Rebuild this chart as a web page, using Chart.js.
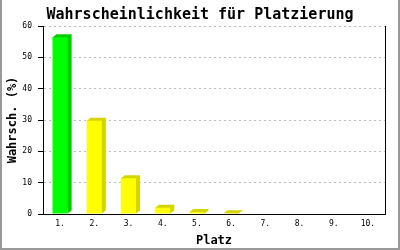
<!DOCTYPE html>
<html>
<head>
<meta charset="utf-8">
<script src="https://cdn.jsdelivr.net/npm/chart.js@4"></script>
<style>
  html, body { margin: 0; padding: 0; background: #fff; }
  #wrap { width: 400px; height: 250px; box-sizing: border-box; border-left: 2px solid #999; border-right: 2px solid #999; border-bottom: 2px solid #999; position: relative; }
  canvas { position: absolute; left: -2px; top: 0; }
</style>
</head>
<body>
<div id="wrap"><canvas id="c" width="400" height="250"></canvas></div>
<script>
"use strict";

// data
const places = ['1.', '2.', '3.', '4.', '5.', '6.', '7.', '8.', '9.', '10.'];
const chances = [56.4, 29.8, 11.4, 2.0, 0.6, 0.2, 0, 0, 0, 0];
const frontColors = ['#00ff00', '#ffff00', '#ffff00', '#ffff00', '#ffff00', '#ffff00', '#ffff00', '#ffff00', '#ffff00', '#ffff00'];
const sideColors = ['#00cc00', '#d4d400', '#d4d400', '#d4d400', '#d4d400', '#d4d400', '#d4d400', '#d4d400', '#d4d400', '#d4d400'];

const MONO = '"DejaVu Sans Mono", "Liberation Mono", monospace';

// draws the 3d depth behind every bar
const depthPlugin = {
    id: 'depth',
    beforeDatasetsDraw(chart) {
        const ctx = chart.ctx;
        const dx = 4, dy = 3;
        chart.getDatasetMeta(0).data.forEach((bar, i) => {
            if (chances[i] <= 0) return;
            const l = bar.x - bar.width / 2;
            const r = bar.x + bar.width / 2;
            const t = bar.y;
            const b = bar.base;
            ctx.save();
            ctx.fillStyle = sideColors[i];
            ctx.beginPath();
            ctx.moveTo(l, t);
            ctx.lineTo(l + dx, t - dy);
            ctx.lineTo(r + dx, t - dy);
            ctx.lineTo(r + dx, b - dy);
            ctx.lineTo(r, b);
            ctx.closePath();
            ctx.fill();
            ctx.restore();
        });
    }
};

new Chart(document.getElementById('c'), {
    type: 'bar',
    data: {
        labels: places,
        datasets: [{
            data: chances,
            backgroundColor: frontColors,
            borderWidth: 0,
            barPercentage: 0.88,
            categoryPercentage: 0.5
        }]
    },
    options: {
        responsive: false,
        devicePixelRatio: 1,
        animation: false,
        layout: { padding: { left: 0, right: 0, top: 0, bottom: 0 } },
        plugins: {
            legend: { display: false },
            tooltip: { enabled: false },
            title: {
                display: true,
                text: 'Wahrscheinlichkeit für Platzierung',
                color: '#000',
                font: { family: MONO, size: 15, weight: 'bold' },
                padding: { top: 6, bottom: 2 }
            }
        },
        scales: {
            x: {
                grid: { display: false, drawTicks: false },
                border: { display: true, color: '#000', width: 1 },
                ticks: { color: '#000', font: { family: MONO, size: 8 }, padding: 5, maxRotation: 0 },
                title: {
                    display: true, text: 'Platz', color: '#000',
                    font: { family: MONO, size: 12, weight: 'bold' },
                    padding: { top: 2, bottom: 2 }
                },
                afterFit: (s) => { s.height = 36; }
            },
            y: {
                min: 0, max: 60,
                ticks: { stepSize: 10, color: '#000', font: { family: MONO, size: 8 }, padding: 6 },
                grid: {
                    color: '#bbbbbb',
                    tickColor: '#000', tickBorderDash: [], tickLength: 5
                },
                border: { display: true, color: '#000', width: 1, dash: [2, 3] },
                title: {
                    display: true, text: 'Wahrsch. (%)', color: '#000',
                    font: { family: MONO, size: 12, weight: 'bold' },
                    padding: { top: 6, bottom: 0 }
                },
                afterFit: (s) => { s.width = 43; }
            },
            yr: {
                position: 'right',
                display: true,
                grid: { display: false, drawOnChartArea: false, drawTicks: false },
                border: { display: true, color: '#000', width: 1 },
                ticks: { display: false },
                afterFit: (s) => { s.width = 15; }
            }
        }
    },
    plugins: [depthPlugin]
});
</script>
</body>
</html>
